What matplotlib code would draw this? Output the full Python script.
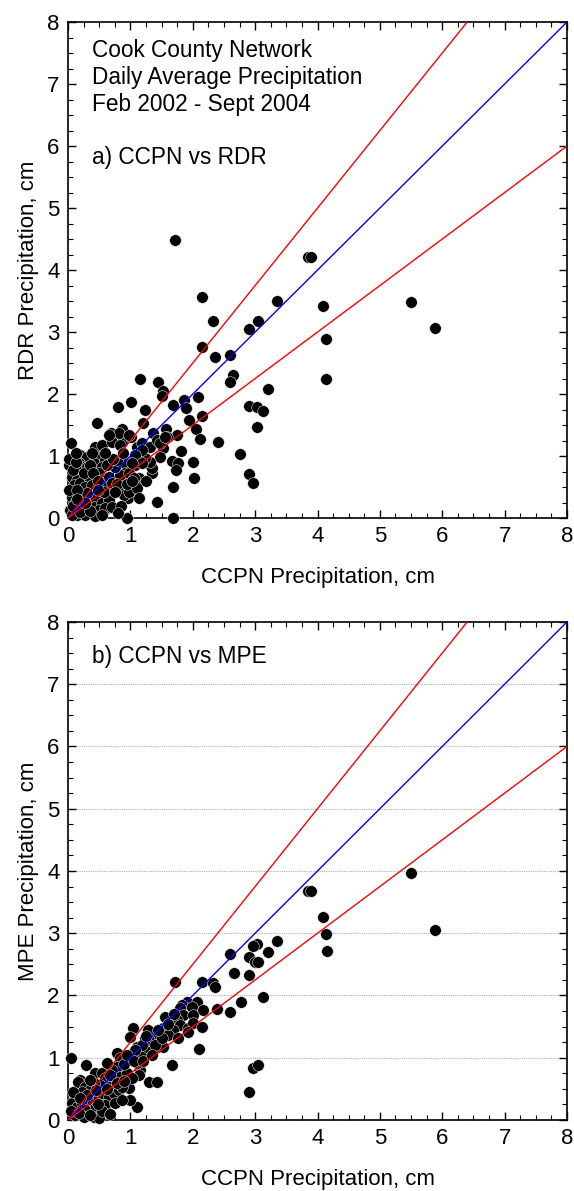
import matplotlib
matplotlib.use("Agg")
import matplotlib.pyplot as plt
from matplotlib.ticker import MultipleLocator

plt.rcParams["font.family"] = ["Liberation Sans", "DejaVu Sans"]

# panel a: CCPN vs RDR (cm)
ccpn_a = [1.72, 2.15, 2.32, 2.15, 2.36, 2.6, 2.64, 2.6, 2.9, 3.05, 3.35, 3.85, 3.89, 4.09, 4.13, 4.13,
          5.5, 5.88, 3.2, 2.9, 3.03, 3.13, 3.03, 2.9, 2.97, 2.76, 2.4, 2.08, 2.15, 1.94, 2.05, 2.12,
          2.0, 2.02, 1.86, 1.89, 1.68, 1.75, 1.81, 1.67, 1.76, 1.73, 1.68, 1.68, 1.43, 0.95, 1.44, 1.52,
          1.51, 1.15, 1.23, 1.2, 1.01, 0.8, 0.46, 0.69, 0.87, 0.87, 1.01, 1.1, 1.18, 1.31, 1.36, 1.43,
          1.57, 1.59, 1.52, 1.47, 1.09, 1.07, 1.31, 1.35, 1.14, 0.93, 0.96, 0.85, 0.91, 0.64, 0.62,
          0.05, 0.19, 0.3, 0.18, 0.22, 0.43, 0.54, 0.46, 0.42, 0.59, 0.54, 0.06, 0.14, 0.1, 0.19, 0.34,
          0.27, 0.38, 0.5, 0.54, 0.66, 0.62, 0.7, 0.06, 0.18, 0.11, 0.22, 0.03, 0.34, 0.43, 0.42, 0.54,
          0.5, 0.66, 0.59, 0.7, 0.14, 0.27, 0.43, 0.06, 0.9, 0.91, 0.83, 0.75, 0.79, 0.98, 1.06, 0.9,
          0.98, 1.11, 1.14, 1.35, 1.31, 1.23, 1.19, 1.47, 1.55, 1.07, 1.19, 1.03, 0.7, 0.83, 0.82, 0.98,
          0.66, 0.02, 0.02, 0.3, 0.25,
          0.02, 0.08, 0.12, 0.25, 0.35, 0.4, 0.48, 0.58, 0.3, 0.15, 0.08, 0.2, 0.35, 0.48, 0.62, 0.72,
          0.78, 0.85, 0.95, 1.02, 0.75, 0.28, 0.6, 0.38, 0.12, 0.88, 1.25, 0.8, 0.55, 0.15]
rdr = [4.48, 3.56, 3.18, 2.76, 2.6, 2.63, 2.31, 2.19, 3.05, 3.18, 3.5, 4.21, 4.21, 3.42, 2.89, 2.24,
       3.48, 3.06, 2.08, 1.81, 1.79, 1.73, 1.47, 0.71, 0.56, 1.03, 1.23, 1.95, 1.65, 1.58, 1.44, 1.27,
       0.9, 0.65, 1.9, 1.77, 1.82, 1.34, 1.08, 0.92, 0.89, 0.77, 0.5, 0.0, 0.26, 0.0, 2.2, 2.05,
       1.97, 2.24, 1.74, 1.53, 1.87, 1.79, 1.53, 1.37, 1.44, 1.23, 1.31, 1.15, 1.21, 1.15, 1.37, 1.26,
       1.44, 1.31, 1.13, 0.98, 0.94, 0.85, 0.85, 0.72, 0.65, 0.4, 0.32, 0.53, 0.65, 0.35, 0.16,
       1.21, 1.02, 0.98, 0.89, 0.82, 1.15, 1.18, 0.98, 0.89, 0.94, 0.82, 0.66, 0.61, 0.53, 0.56, 0.66,
       0.5, 0.53, 0.73, 0.61, 0.66, 0.5, 0.56, 0.34, 0.37, 0.24, 0.18, 0.13, 0.29, 0.34, 0.18, 0.24,
       0.13, 0.29, 0.16, 0.18, 0.05, 0.05, 0.03, 0.05, 0.89, 0.73, 0.69, 0.82, 0.94, 0.73, 0.65, 0.37,
       0.42, 0.48, 0.32, 0.8, 0.9, 0.97, 1.1, 1.21, 1.31, 1.02, 0.89, 0.89, 1.23, 1.18, 1.37, 1.34,
       1.34, 0.45, 0.85, 0.82, 0.35,
       0.95, 0.78, 0.9, 0.72, 0.85, 0.72, 0.6, 0.42, 0.4, 0.45, 0.2, 0.1, 0.12, 0.45, 0.85, 0.95,
       0.55, 0.2, 0.55, 0.6, 0.42, 0.25, 1.05, 1.05, 1.05, 1.05, 0.6, 0.08, 0.05, 0.3]

# panel b: CCPN vs MPE (cm)
ccpn_b = [5.5, 5.89, 3.85, 3.9, 4.09, 4.14, 4.15, 3.35, 3.21, 3.03, 2.97, 2.9, 3.0, 3.05, 2.9, 3.13,
          2.78, 2.97, 3.05, 2.9, 2.6, 2.66, 2.6, 2.39, 1.72, 2.15, 2.32, 2.36, 2.1, 1.67, 1.91, 2.07,
          1.83, 1.8, 1.99, 2.17, 1.85, 2.0, 1.56, 1.75, 1.8, 1.69, 1.93, 2.0, 2.15, 1.52, 1.6, 1.77,
          1.93, 1.28, 1.24, 1.44, 1.43, 1.52, 1.04, 1.1, 1.15,
          0.05, 0.29, 0.79, 0.83, 0.43, 0.55, 0.19, 0.16, 1.3, 1.43, 1.1, 1.0, 0.98, 0.79, 1.16, 1.1,
          1.19, 1.27, 0.59, 0.71, 0.66, 0.51, 0.42, 0.27, 0.35, 0.22, 0.11, 0.06, 0.14, 0.22, 0.3, 0.38,
          0.5, 0.54, 0.66, 0.74, 0.82, 0.87, 0.59, 0.75, 0.43, 0.27, 0.11, 0.26, 0.42, 0.5, 0.87, 0.79,
          0.71, 0.83, 0.95, 1.14, 1.03, 1.3, 1.4, 1.51, 1.19, 0.99, 1.07,
          0.05, 0.08, 0.18, 0.3, 0.35, 0.45, 0.55, 0.62, 0.68, 0.78, 0.9, 0.95, 1.05, 0.9, 0.68, 0.35,
          0.2, 0.48, 1.2, 1.35, 1.25, 1.6, 1.45, 1.7, 0.62]
mpe = [3.97, 3.05, 3.68, 3.68, 3.26, 2.99, 2.71, 2.87, 2.7, 2.83, 2.8, 2.62, 2.54, 2.54, 2.33, 1.98,
       1.89, 0.83, 0.88, 0.45, 2.66, 2.36, 1.73, 1.78, 2.22, 2.22, 2.2, 2.13, 1.14, 0.88, 1.89, 1.89,
       1.85, 1.8, 1.81, 1.77, 1.69, 1.69, 1.66, 1.6, 1.52, 1.44, 1.48, 1.56, 1.49, 1.48, 1.36, 1.32,
       1.41, 1.44, 1.32, 1.32, 1.17, 1.17, 1.48, 1.17, 1.04,
       1.0, 0.88, 1.07, 1.0, 0.75, 0.75, 0.64, 0.61, 0.61, 0.61, 0.21, 0.32, 0.51, 0.32, 0.8, 0.91,
       1.07, 1.17, 0.67, 0.64, 0.53, 0.56, 0.59, 0.53, 0.48, 0.45, 0.37, 0.27, 0.21, 0.27, 0.29, 0.32,
       0.35, 0.43, 0.37, 0.43, 0.48, 0.53, 0.24, 0.27, 0.19, 0.16, 0.08, 0.05, 0.05, 0.03, 0.32, 0.85,
       0.8, 0.69, 0.75, 0.72, 0.67, 1.28, 1.2, 1.32, 1.2, 1.33, 1.12,
       0.15, 0.45, 0.12, 0.4, 0.65, 0.48, 0.15, 0.5, 0.72, 0.6, 0.9, 1.05, 0.95, 0.62, 0.1, 0.08,
       0.35, 0.25, 0.95, 1.05, 1.35, 1.55, 1.45, 1.7, 0.92]

# reference lines: 1:1 and +/-25 %
line_x = [0, 8]
one_to_one = [0, 8]
upper = [0, 10]
lower = [0, 6]

fig = plt.figure(figsize=(5.74, 11.91), dpi=100)
ax_a = fig.add_axes([0.1185, 0.565, 0.8693, 0.4165])
ax_b = fig.add_axes([0.1185, 0.0596, 0.8693, 0.4182])

panels = [(ax_a, ccpn_a, rdr, "RDR Precipitation, cm"),
          (ax_b, ccpn_b, mpe, "MPE Precipitation, cm")]
for ax, xs, ys, ylab in panels:
    ax.plot(xs, ys, "o", color="black", markersize=8.4, markeredgecolor="white",
            markeredgewidth=0.35, zorder=3, clip_on=False)
    ax.plot(line_x, upper, color="red", lw=1.0, zorder=4)
    ax.plot(line_x, one_to_one, color="blue", lw=1.0, zorder=4)
    ax.plot(line_x, lower, color="red", lw=1.0, zorder=4)
    ax.set_xlim(0, 8)
    ax.set_ylim(0, 8)
    ax.xaxis.set_major_locator(MultipleLocator(1))
    ax.yaxis.set_major_locator(MultipleLocator(1))
    ax.xaxis.set_minor_locator(MultipleLocator(0.25))
    ax.yaxis.set_minor_locator(MultipleLocator(0.25))
    ax.tick_params(which="both", direction="in", top=True, right=True, labelsize=16)
    ax.tick_params(which="major", length=6, width=1.0, pad=6)
    ax.tick_params(which="minor", length=3.5, width=0.8)
    for sp in ax.spines.values():
        sp.set_linewidth(1.2)
    ax.set_xlabel("CCPN Precipitation, cm", fontsize=16, labelpad=14)
    ax.set_ylabel(ylab, fontsize=16, labelpad=6)

# dotted grid only in panel b
for yg in range(1, 8):
    ax_b.axhline(yg, color="#b0b0b0", lw=0.8, ls=(0, (1, 1)), zorder=1)

for txt, yy in [("Cook County Network", 0.929), ("Daily Average Precipitation", 0.875),
                ("Feb 2002 - Sept 2004", 0.821), ("a) CCPN vs RDR", 0.714)]:
    ax_a.text(0.048, yy, txt, transform=ax_a.transAxes, fontsize=16.3, va="baseline", ha="left")
ax_b.text(0.048, 0.918, "b) CCPN vs MPE", transform=ax_b.transAxes, fontsize=16.3,
          va="baseline", ha="left")

fig.savefig("out.png", dpi=100)
